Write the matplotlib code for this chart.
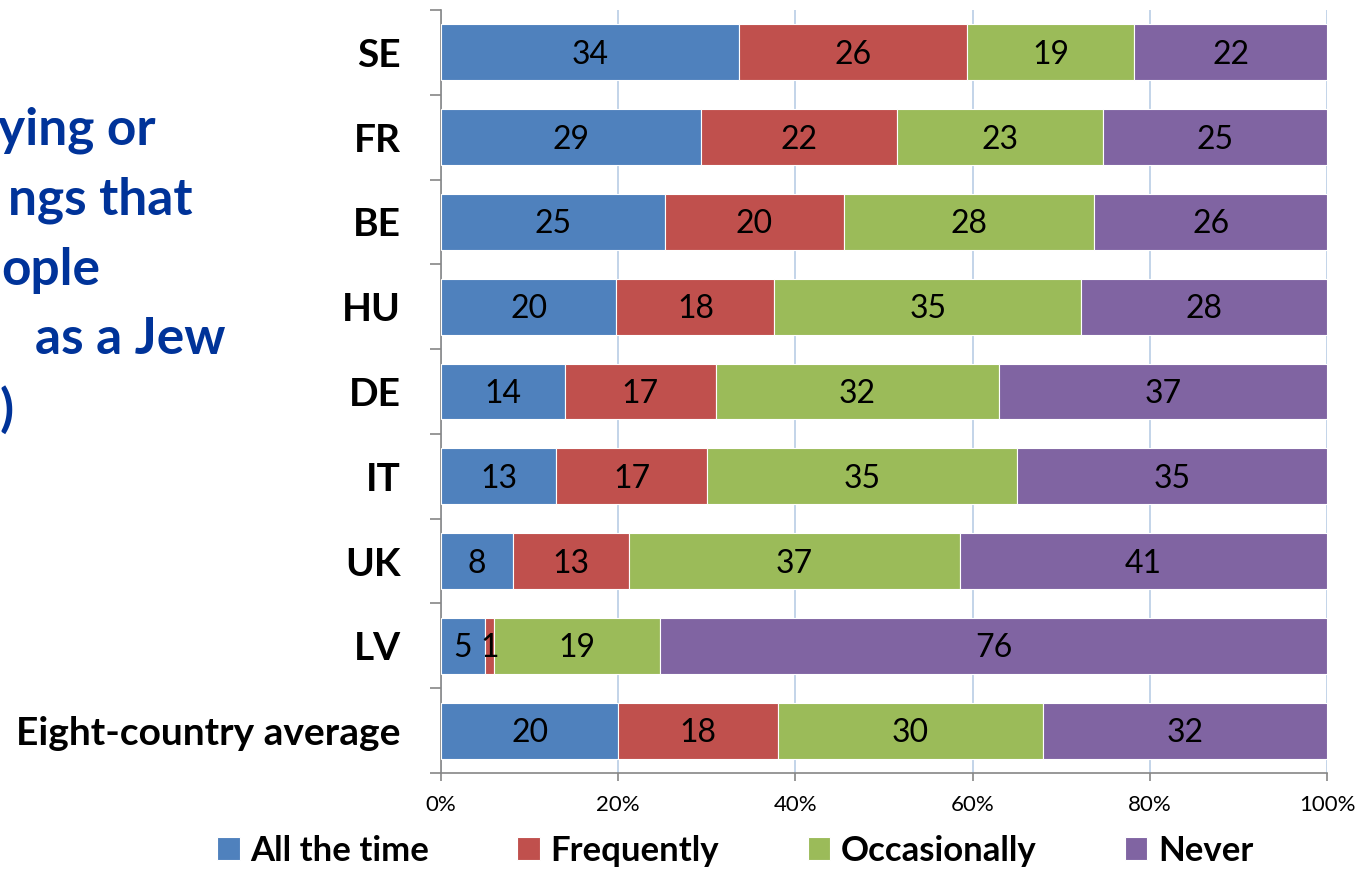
import numpy as np
import matplotlib
matplotlib.use("Agg")
import matplotlib.pyplot as plt
from matplotlib.ticker import FixedLocator, PercentFormatter

plt.rcParams['font.family'] = ['Lato', 'DejaVu Sans']

# data (top to bottom as shown)
countries = ["SE", "FR", "BE", "HU", "DE", "IT", "UK", "LV", "Eight-country average"]
all_time     = [34, 29, 25, 20, 14, 13, 8, 5, 20]
frequently   = [26, 22, 20, 18, 17, 17, 13, 1, 18]
occasionally = [19, 23, 28, 35, 32, 35, 37, 19, 30]
never        = [22, 25, 26, 28, 37, 35, 41, 76, 32]
series_names = ["All the time", "Frequently", "Occasionally", "Never"]
colors = ["#4F81BD", "#C0504D", "#9BBB59", "#8064A2"]

# title is cut off at the left edge in the source, only these parts show
title_lines = ["ying or", "ngs that", "ople", "as a Jew", ")"]
title_right = [155, 192, 100, 225, 14]   # px where each line ends

vals = np.array([all_time, frequently, occasionally, never], dtype=float)
pct = vals / vals.sum(axis=0) * 100

fig = plt.figure(figsize=(13.59, 8.69), dpi=100)
ax = fig.add_axes([441/1359, 1 - 773/869, (1327-441)/1359, (773-10)/869])

n = len(countries)
y = np.arange(n)[::-1]
left = np.zeros(n)
bars = []
for i in range(4):
    b = ax.barh(y, pct[i], left=left, height=0.66, color=colors[i],
                edgecolor="white", linewidth=0.8, label=series_names[i], zorder=3)
    for j in range(n):
        ax.text(left[j] + pct[i][j] / 2, y[j] - 0.03, f"{int(vals[i][j])}",
                ha="center", va="center", fontsize=23, color="black", zorder=4)
    left += pct[i]
    bars.append(b)

ax.set_xlim(0, 100)
ax.set_ylim(-0.5, n - 0.5)
ax.xaxis.set_major_locator(FixedLocator([0, 20, 40, 60, 80, 100]))
ax.xaxis.set_major_formatter(PercentFormatter(decimals=0))
ax.grid(axis="x", color="#B9CDE5", linewidth=1.2, zorder=0)
ax.set_axisbelow(True)

ax.set_yticks(y)
ax.set_yticklabels(countries, fontsize=28, fontweight="bold")
ax.yaxis.set_minor_locator(FixedLocator(np.arange(-0.5, n, 1.0)))
ax.tick_params(axis="y", which="major", length=0, pad=29)
ax.tick_params(axis="y", which="minor", length=8, color="#868686", width=1.2)
ax.tick_params(axis="x", length=6, color="#868686", width=1.2, labelsize=16, pad=10)

for s in ["top", "right"]:
    ax.spines[s].set_visible(False)
for s in ["left", "bottom"]:
    ax.spines[s].set_color("#868686")
    ax.spines[s].set_linewidth(1.2)

fig.legend(handles=bars, labels=series_names, loc="center",
           bbox_to_anchor=(735/1359, 1 - 851/869), ncol=4, frameon=False,
           prop={"weight": "bold", "size": 25}, handlelength=0.65, handleheight=0.65,
           handletextpad=0.3, columnspacing=2.55, borderaxespad=0, borderpad=0)

for k, line in enumerate(title_lines):
    fig.text(title_right[k] / 1359, 1 - (130 + 70 * k) / 869, line, ha="right",
             va="center", fontsize=37, fontweight="bold", color="#003399")

fig.savefig("out.png", dpi=100)
